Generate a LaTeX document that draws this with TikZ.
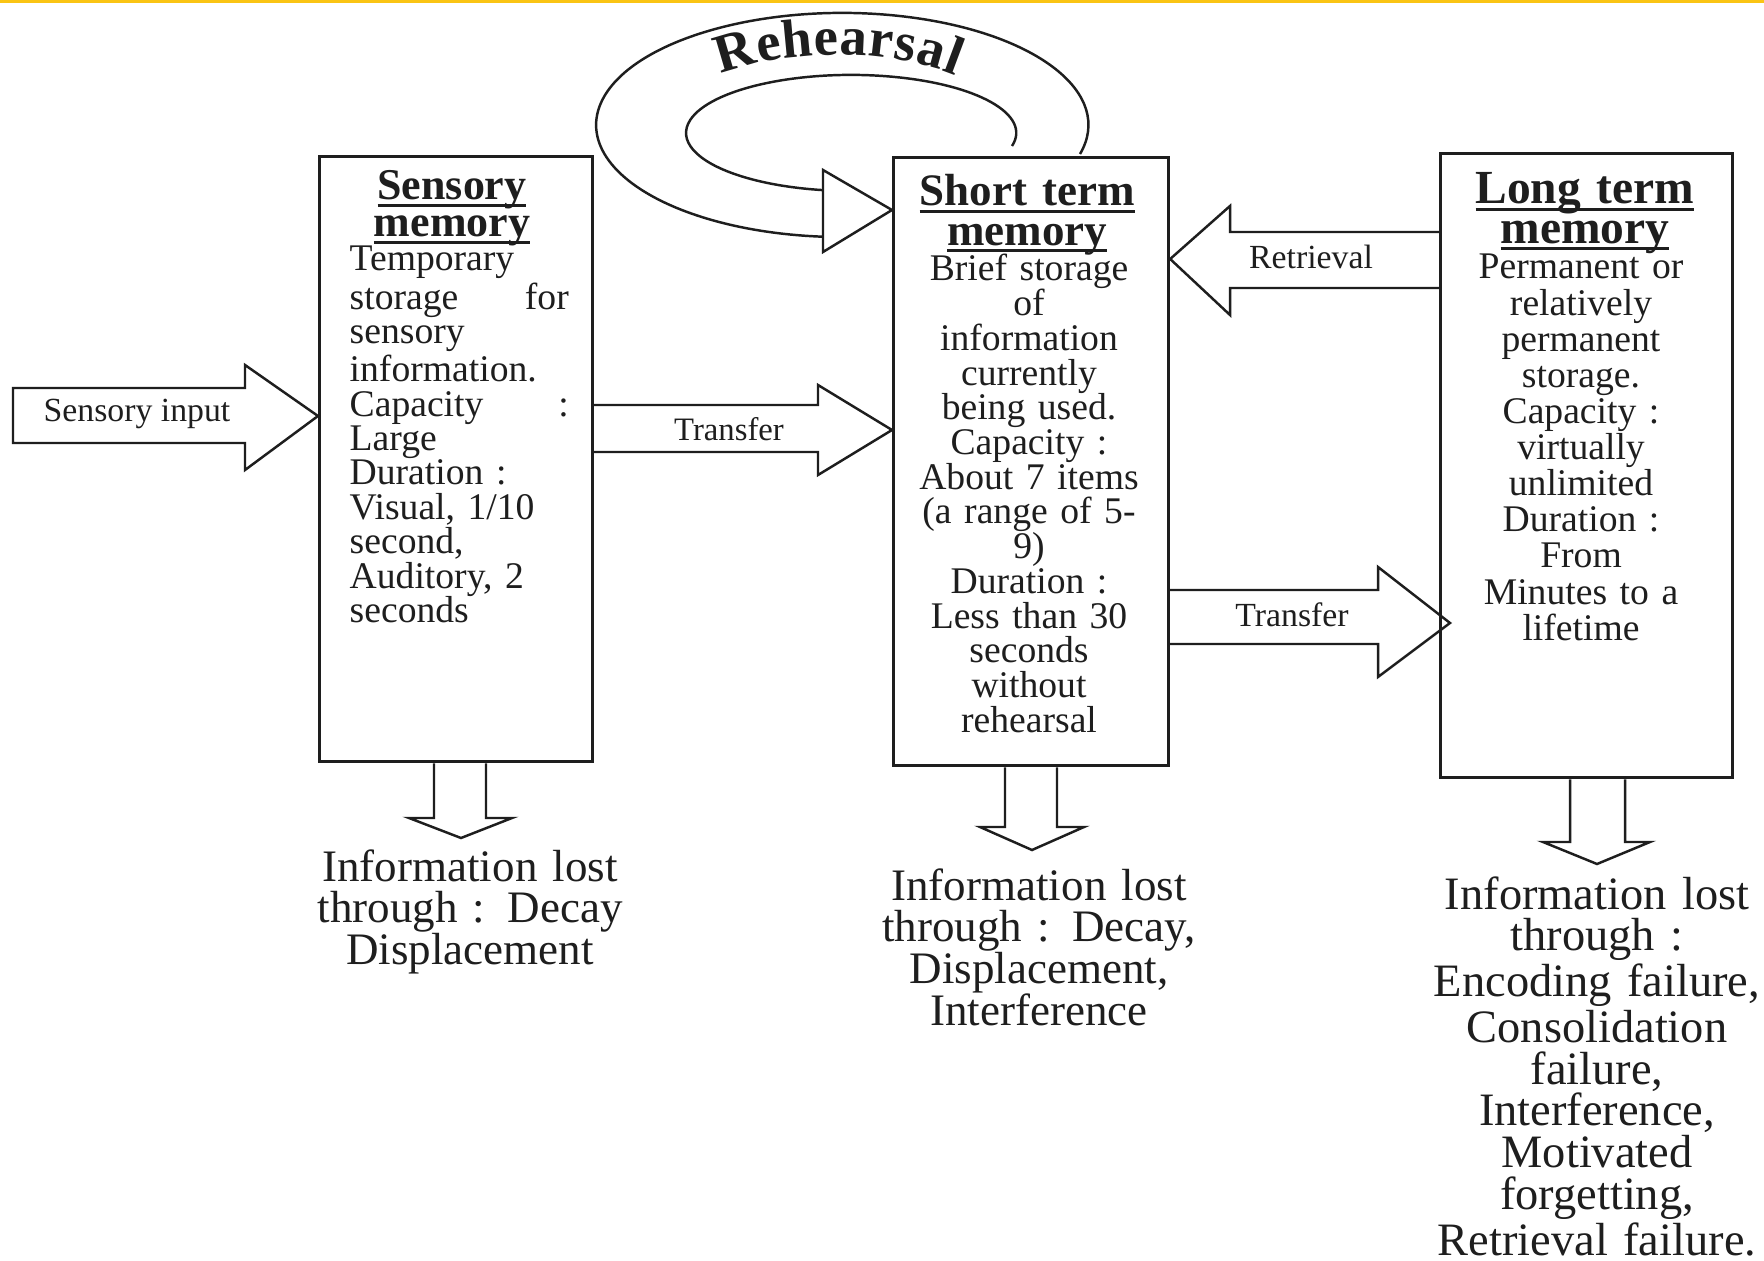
\documentclass[tikz,border=0pt]{standalone}
\usepackage{fontspec}
\setmainfont{Liberation Serif}
\usetikzlibrary{decorations.text,calc}
\lineskiplimit=-100pt
\definecolor{ink}{RGB}{30,30,30}
\definecolor{topline}{RGB}{250,196,20}
\newcommand\ttl[1]{\leavevmode\setbox0\hbox{#1}\rlap{\rule[-2pt]{\wd0}{0.85pt}}\box0}
\begin{document}
\begin{tikzpicture}[x=0.01cm,y=-0.01cm,
  box/.style={draw=ink, line width=0.85pt, inner sep=0pt, anchor=north west},
  blk/.style={draw=ink, line width=0.7pt, line join=miter},
  body/.style={inner sep=0pt, text=ink},
  title/.style={inner sep=0pt, text=ink, align=center, text width=3cm, anchor=base},
  lost/.style={inner sep=0pt, text=ink, align=center, text width=4cm, anchor=base},
  lbl/.style={inner sep=0pt, text=ink, font=\fontsize{9.6}{10}\selectfont}]
\useasboundingbox (0,0) rectangle (1764,1261);
\fill[white] (0,0) rectangle (1764,1261);
\fill[topline] (0,0) rectangle (1764,3);

% boxes
\node[box, minimum width=2.73cm, minimum height=6.05cm] (sens) at (318,155) {};
\node[box, minimum width=2.75cm, minimum height=6.08cm] (stm) at (892,156) {};
\node[box, minimum width=2.92cm, minimum height=6.24cm] (ltm) at (1439,152) {};

% titles
\node[title, font=\fontsize{12.5}{10.5}\selectfont\bfseries] (sensT) at (452,200) {\ttl{Sensory}\\\ttl{memory}};
\node[title, font=\fontsize{12.8}{11.1}\selectfont\bfseries] (stmT) at (1027,206) {\ttl{Short term}\\\ttl{memory}};
\node[title, font=\fontsize{13.5}{11.1}\selectfont\bfseries] (ltmT) at (1585,204) {\ttl{Long term}\\\ttl{memory}};

% bodies
\node[body, anchor=base west, text width=2.19cm, align=left, font=\fontsize{10.7}{9.79}\selectfont] (sensB) at (349,271)
 {Temporary\\storage\hfill for\\sensory\\information.\\Capacity\hfill :\\Large\\Duration :\\Visual, 1/10\\second,\\Auditory, 2\\seconds};
\node[body, anchor=base, text width=2.6cm, align=center, font=\fontsize{10.7}{9.87}\selectfont] (stmB) at (1029,281)
 {Brief storage\\of\\information\\currently\\being used.\\Capacity :\\About 7 items\\(a range of 5-\\9)\\Duration :\\Less than 30\\seconds\\without\\rehearsal};
\node[body, anchor=base, text width=2.8cm, align=center, font=\fontsize{10.7}{10.27}\selectfont] (ltmB) at (1581,279)
 {Permanent or\\relatively\\permanent\\storage.\\Capacity :\\virtually\\unlimited\\Duration :\\From\\Minutes to a\\lifetime};

% sensory input arrow
\draw[blk] (13,388) -- (245,388) -- (245,365) -- (sens.west |- 0,416) -- (245,470) -- (245,443) -- (13,443) -- cycle;
\node[lbl] (inL) at (137,414) {Sensory input};

% transfer 1
\draw[blk] (sens.east |- 0,405) -- (818,405) -- (818,385) -- (stm.west |- 0,430) -- (818,475) -- (818,452) -- (sens.east |- 0,452);
\node[lbl, font=\fontsize{9.3}{10}\selectfont] (t1L) at (729,429) {Transfer};

% retrieval
\draw[blk] (ltm.west |- 0,232) -- (1230,232) -- (1230,206) -- (stm.east |- 0,259) -- (1230,315) -- (1230,288) -- (ltm.west |- 0,288);
\node[lbl] (rL) at (1311,257) {Retrieval};

% transfer 2
\draw[blk] (stm.east |- 0,590) -- (1378,590) -- (1378,567) -- ($(ltm.west |- 0,623)+(11,0)$) -- (1378,677) -- (1378,644) -- (stm.east |- 0,644);
\node[lbl] (t2L) at (1292,615) {Transfer};

% down arrows
\draw[blk] (sens.south -| 434,0) -- (434,818) -- (409,818) -- (461,838) -- (512,818) -- (486,818) -- (sens.south -| 486,0);
\draw[blk] (stm.south -| 1005,0) -- (1005,827) -- (980,827) -- (1032,850) -- (1084,827) -- (1057,827) -- (stm.south -| 1057,0);
\draw[blk] (ltm.south -| 1570,0) -- (1570,842) -- (1543,842) -- (1597,864) -- (1650,842) -- (1625,842) -- (ltm.south -| 1625,0);

% lost texts
\node[lost, font=\fontsize{12.8}{11.8}\selectfont] (sensL) at (470,881) {Information lost\\through : Decay\\Displacement};
\node[lost, font=\fontsize{12.8}{11.9}\selectfont] (stmL) at (1039,900) {Information lost\\through : Decay,\\Displacement,\\Interference};
\node[lost, font=\fontsize{13.2}{11.85}\selectfont] (ltmL) at (1597,909) {Information lost\\through :\\Encoding failure,\\Consolidation\\failure,\\Interference,\\Motivated\\forgetting,\\Retrieval failure.};

% rehearsal loop
\draw[blk] (1080,154) arc[start angle=-15, end angle=265.6, x radius=2.46cm, y radius=1.12cm];
\draw[blk] (1012,146) arc[start angle=-13, end angle=260.2, x radius=1.65cm, y radius=0.58cm];
\draw[blk] (823,170) -- (stm.west |- 0,210) -- (823,252) -- cycle;
\path[decorate, decoration={text along path, text color=ink,
  text={|\fontsize{15.5}{15.5}\selectfont\bfseries|Rehearsal}, text align={fit to path}}]
  (721,74) arc[start angle=131, end angle=47, x radius=1.75cm, y radius=0.78cm];
\end{tikzpicture}
\end{document}
